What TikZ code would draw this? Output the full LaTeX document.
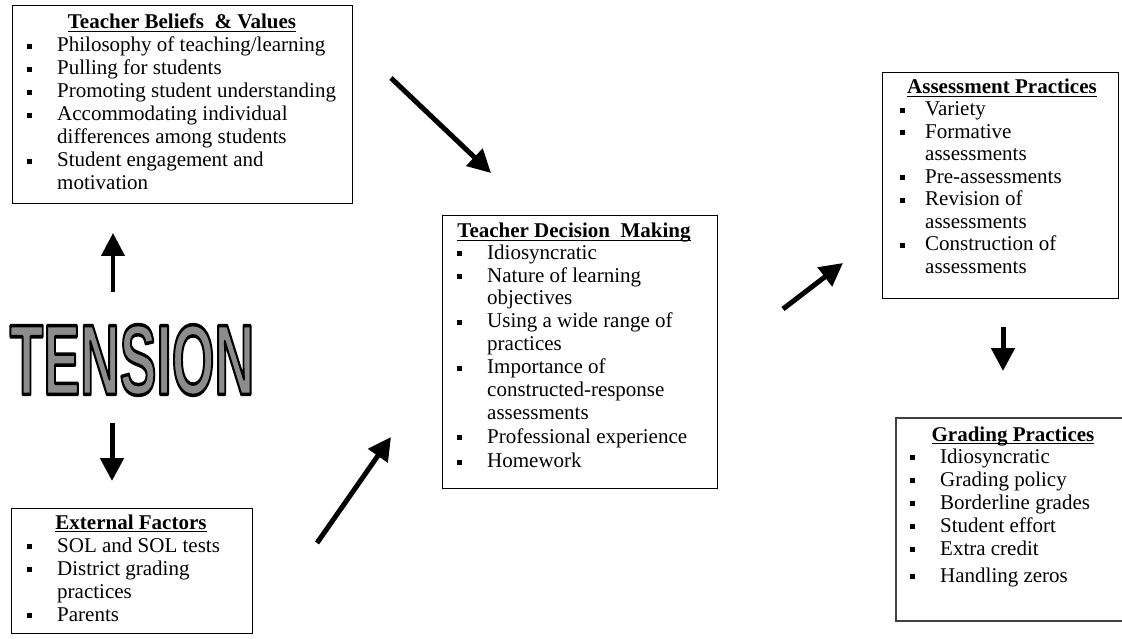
\documentclass[tikz,border=0pt]{standalone}
\usepackage{graphicx}
\usepackage{fontspec}
\setmainfont{Liberation Serif}
\newfontfamily\tensionfont{Liberation Sans}
\usetikzlibrary{arrows.meta}
\newcommand{\bulsq}{\rule[3pt]{5pt}{5pt}}
\newcommand{\bi}[1][30pt]{\makebox[#1][l]{\bulsq}}
\newcommand{\undl}[1]{\setbox0\hbox{#1}\rlap{\rule[-3pt]{\wd0}{1.1pt}}\box0}
\newcommand{\tensionword}{\scalebox{0.55}[1]{\tensionfont\bfseries\fontsize{100}{100}\selectfont
  \color{black!45}\special{pdf:literal direct 0 G 2 Tr 3.5 w 1 j}TENSION\special{pdf:literal direct 0 Tr 1 w 0 j}}}
\tikzset{
  frame/.style={draw=black, line width=1.2pt, anchor=north west, inner sep=0pt},
  ttl/.style={font=\fontsize{21}{23}\selectfont\bfseries, inner sep=0pt, anchor=base},
  lst/.style={font=\fontsize{21}{23}\selectfont, inner sep=0pt, anchor=base west},
  bigarrow/.style={line width=5pt, -{Triangle[length=23pt,width=23pt]}},
}
\begin{document}
\begin{tikzpicture}[x=1pt,y=-1pt]
\useasboundingbox (0,0) rectangle (1122,639);

% ---------- boxes ----------
\node[frame, minimum width=340pt, minimum height=198pt] (beliefs) at (12,5) {};
\node[frame, minimum width=241pt, minimum height=125pt] (external) at (11,508) {};
\node[frame, minimum width=275pt, minimum height=273pt] (decision) at (442,215) {};
\node[frame, minimum width=236pt, minimum height=226pt] (assess) at (882,72) {};
\node[frame, draw=black!75, line width=1.6pt, minimum width=260pt, minimum height=203pt] (grading) at (895,417) {};

% ---------- titles ----------
\node[ttl] (beliefsT) at (182,29) {\undl{Teacher Beliefs\ \ \& Values}};
\node[ttl] (externalT) at (131,529) {\undl{External Factors}};
\node[ttl] (decisionT) at (574,238) {\undl{Teacher Decision\ \ Making}};
\node[ttl] (assessT) at (1002,94) {\undl{Assessment Practices}};
\node[ttl] (gradingT) at (1013,441) {\undl{Grading Practices}};

% ---------- lists ----------
\node[lst] (beliefsL) at (27,52) {\begin{tabular}[t]{@{}l@{}l@{}}
\bi & Philosophy of teaching/learning\\
\bi & Pulling for students\\
\bi & Promoting student understanding\\
\bi & Accommodating individual\\
    & differences among students\\
\bi & Student engagement and\\
    & motivation
\end{tabular}};

\node[lst] (externalL) at (27,552) {\begin{tabular}[t]{@{}l@{}l@{}}
\bi & SOL and SOL tests\\
\bi & District grading\\
    & practices\\
\bi & Parents
\end{tabular}};

\node[lst] (decisionL) at (457,259) {\begin{tabular}[t]{@{}l@{}l@{}}
\bi & Idiosyncratic\\
\bi & Nature of learning\\
    & objectives\\
\bi & Using a wide range of\\
    & practices\\
\bi & Importance of\\
    & constructed-response\\
    & assessments\\
\bi & Professional experience\\[2pt]
\bi & Homework
\end{tabular}};

\node[lst, font=\fontsize{21}{22.5}\selectfont] (assessL) at (900,116) {\begin{tabular}[t]{@{}l@{}l@{}}
\bi[25pt] & Variety\\
\bi[25pt] & Formative\\
    & assessments\\
\bi[25pt] & Pre-assessments\\
\bi[25pt] & Revision of\\
    & assessments\\
\bi[25pt] & Construction of\\
    & assessments
\end{tabular}};

\node[lst] (gradingL) at (910,463) {\begin{tabular}[t]{@{}l@{}l@{}}
\bi & Idiosyncratic\\
\bi & Grading policy\\
\bi & Borderline grades\\
\bi & Student effort\\
\bi & Extra credit\\[4pt]
\bi & Handling zeros
\end{tabular}};

% ---------- TENSION ----------
\node[inner sep=0pt] (tension) at (132,360) {\tensionword};

% ---------- arrow end points ----------
\coordinate (upS) at (113,292);
\coordinate (upE) at (113,233);
\coordinate (dnS) at (112,423);
\coordinate (dnE) at (112,481);
\coordinate (bdS) at (391,78);
\coordinate (bdE) at (491,173);
\coordinate (edS) at (317,543);
\coordinate (edE) at (391,437);
\coordinate (daS) at (783,309);
\coordinate (daE) at (843,263);
\coordinate (agS) at (1003,327);
\coordinate (agE) at (1003,371);

\draw[bigarrow, line width=4pt] (upS) -- (upE);
\draw[bigarrow] (dnS) -- (dnE);
\draw[bigarrow] (bdS) -- (bdE);
\draw[bigarrow] (edS) -- (edE);
\draw[bigarrow] (daS) -- (daE);
\draw[bigarrow] (agS) -- (agE);
\end{tikzpicture}
\end{document}
